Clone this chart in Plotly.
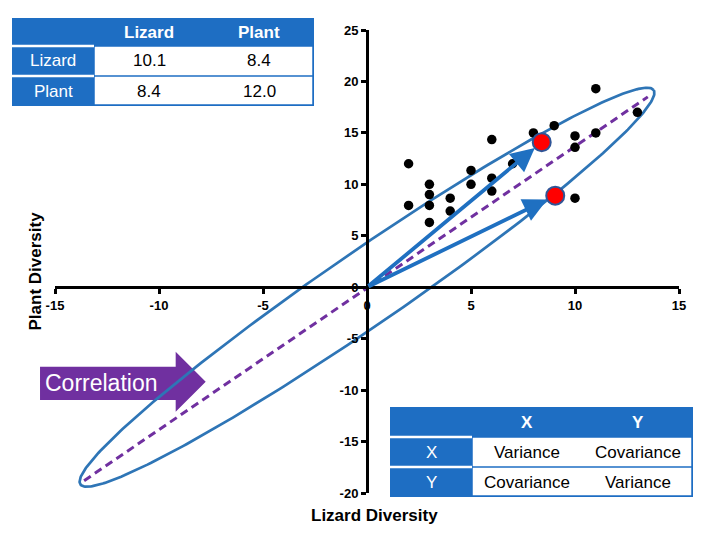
import numpy as np
import plotly.graph_objects as go

# ---------------- data ----------------
lizard = [2, 2, 3, 3, 3, 3, 4, 4, 5, 5, 6, 6, 6, 7, 8, 9, 10, 10, 10, 11, 11, 13]
plant = [12, 7.95, 10, 9, 7.95, 6.3, 8.65, 7.4, 11.35, 10, 14.35, 10.6, 9.35, 12,
         15, 15.7, 14.7, 13.6, 8.65, 19.3, 15, 17]

eig_x = [8.4, 9.05]
eig_y = [14.1, 8.9]

line_x = [-13.6, 13.5]
line_y = [-18.8, 18.5]

ellipse_tip = (13.78, 19.16)     # end of the long half-axis (data units)
ellipse_half_width_px = 37       # short half-axis, in screen pixels

x_ticks = [-15, -10, -5, 0, 5, 10, 15]
x_tick_text = ["-15", "-10", "-5", "0", "5", "10", "15"]
y_ticks = [-20, -15, -10, -5, 0, 5, 10, 15, 20, 25]
y_tick_text = ["-20", "-15", "-10", "-5", "0", "5", "10", "15", "20", "25"]

cov_cols = ["Lizard", "Plant"]
cov_rows = ["Lizard", "Plant"]
cov_vals = [["10.1", "8.4"], ["8.4", "12.0"]]

gen_cols = ["X", "Y"]
gen_rows = ["X", "Y"]
gen_vals = [["Variance", "Covariance"], ["Covariance", "Variance"]]

x_range = [-15, 15]
y_range = [-20, 25]

# ---------------- layout geometry ----------------
OFF = 8                       # page body margin
W_FIG, H_FIG = 720 - OFF, 540 - OFF
L, R, T, B = 55 - OFF, 41, 30 - OFF, 47
PW, PH = W_FIG - L - R, H_FIG - T - B
sx = PW / (x_range[1] - x_range[0])
sy = PH / (y_range[1] - y_range[0])
PLOT_LEFT = L + OFF
PLOT_BOTTOM = OFF + H_FIG - B


def px(p):
    return (p - PLOT_LEFT) / PW


def py(p):
    return (PLOT_BOTTOM - p) / PH


BLUE_T = "#1E6EC3"
BLUE_L = "#2E75B6"
PURPLE = "#7030A0"
FONT = "Liberation Sans, Arial, sans-serif"

# ellipse computed in screen space, converted back to data units
ax_px = np.array([ellipse_tip[0] * sx, ellipse_tip[1] * sy])
a_len = np.hypot(*ax_px)
u = ax_px / a_len
v = np.array([-u[1], u[0]])
t = np.linspace(0, 2 * np.pi, 361)
pts = np.outer(np.cos(t), ax_px) + np.outer(np.sin(t), v * ellipse_half_width_px)
ell_x = pts[:, 0] / sx
ell_y = pts[:, 1] / sy

fig = go.Figure()
fig.add_trace(go.Scatter(x=line_x, y=line_y, mode="lines",
                         line=dict(color=PURPLE, width=3, dash="8px,5px"),
                         hoverinfo="skip"))
fig.add_trace(go.Scatter(x=ell_x, y=ell_y, mode="lines",
                         line=dict(color=BLUE_L, width=2.7), hoverinfo="skip"))
fig.add_trace(go.Scatter(x=lizard, y=plant, mode="markers",
                         marker=dict(color="black", size=9.5)))
fig.add_trace(go.Scatter(x=eig_x, y=eig_y, mode="markers",
                         marker=dict(color="#FF0000", size=18,
                                     line=dict(color="#2F5597", width=2))))

annotations = []
for ex, ey in zip(eig_x, eig_y):
    annotations.append(dict(x=ex, y=ey, ax=0, ay=0, xref="x", yref="y",
                            axref="x", ayref="y", text="", showarrow=True,
                            arrowhead=2, arrowsize=1.25, arrowwidth=3.8,
                            arrowcolor="#1F70C1", standoff=9))

shapes = []


def label(xp, yp, text, size, color, angle=0):
    annotations.append(dict(x=px(xp), y=py(yp), xref="paper", yref="paper",
                            xanchor="center", yanchor="middle", text=text,
                            showarrow=False, textangle=angle,
                            font=dict(family=FONT, size=size, color=color)))


def table(col_edges, row_edges, cols, rows, vals):
    x0, x1 = col_edges[0], col_edges[-1]
    y0, y1 = row_edges[0], row_edges[-1]
    shapes.append(dict(type="rect", xref="paper", yref="paper",
                       x0=px(x0), x1=px(x1), y0=py(y1), y1=py(y0),
                       fillcolor=BLUE_T, line=dict(width=0), layer="above"))
    shapes.append(dict(type="rect", xref="paper", yref="paper",
                       x0=px(col_edges[1]), x1=px(x1 - 1), y0=py(y1 - 1),
                       y1=py(row_edges[1]),
                       fillcolor="white", line=dict(color=BLUE_T, width=1.5),
                       layer="above"))
    for r in row_edges[1:-1]:
        shapes.append(dict(type="line", xref="paper", yref="paper",
                           x0=px(x0), x1=px(col_edges[1]), y0=py(r), y1=py(r),
                           line=dict(color="white", width=2.5), layer="above"))
    for r in row_edges[2:-1]:
        shapes.append(dict(type="line", xref="paper", yref="paper",
                           x0=px(col_edges[1]), x1=px(x1), y0=py(r), y1=py(r),
                           line=dict(color=BLUE_T, width=1.5), layer="above"))
    yc0 = (row_edges[0] + row_edges[1]) / 2
    for j, c in enumerate(cols):
        xc = (col_edges[j + 1] + col_edges[j + 2]) / 2
        label(xc, yc0, "<b>%s</b>" % c, 17, "white")
    for i, rlab in enumerate(rows):
        yc = (row_edges[i + 1] + row_edges[i + 2]) / 2
        label((col_edges[0] + col_edges[1]) / 2, yc, rlab, 17, "white")
        for j, val in enumerate(vals[i]):
            xv = (col_edges[j + 1] + col_edges[j + 2]) / 2
            label(xv, yc, val, 17, "black")


table([12, 94, 204, 314], [18, 46, 76, 106], cov_cols, cov_rows, cov_vals)
table([390, 472, 582, 693], [407, 437, 467, 497], gen_cols, gen_rows, gen_vals)

# "Correlation" block arrow
arrow_pts = [(40, 366.7), (175.7, 366.7), (175.7, 351.7), (205.7, 381.7),
             (175.7, 411.7), (175.7, 400), (40, 400)]
path = "M " + " L ".join("%.4f,%.4f" % (px(a), py(b)) for a, b in arrow_pts) + " Z"
shapes.append(dict(type="path", xref="paper", yref="paper", path=path,
                   fillcolor=PURPLE, line=dict(width=0), layer="below"))
label(101.5, 383, "Correlation", 23, "white")

label(35, 271.5, "<b>Plant Diversity</b>", 17, "black", angle=-90)
label(374, 515, "<b>Lizard Diversity</b>", 17, "black")

tickfont = dict(family=FONT, size=13, color="black", weight="bold")
fig.update_layout(
    width=W_FIG, height=H_FIG, autosize=False,
    margin=dict(l=L, r=R, t=T, b=B, pad=0),
    paper_bgcolor="white", plot_bgcolor="rgba(0,0,0,0)",
    showlegend=False,
    xaxis=dict(range=x_range, anchor="free",
               position=(0 - y_range[0]) / (y_range[1] - y_range[0]),
               showgrid=False, zeroline=False, showline=True, linecolor="black",
               linewidth=3, ticks="outside", ticklen=5, tickwidth=2.5,
               tickcolor="black", tickvals=x_ticks, ticktext=x_tick_text,
               tickfont=tickfont),
    yaxis=dict(range=y_range, anchor="free",
               position=(0 - x_range[0]) / (x_range[1] - x_range[0]),
               showgrid=False, zeroline=False, showline=True, linecolor="black",
               linewidth=3, ticks="outside", ticklen=5, tickwidth=2.5,
               tickcolor="black", tickvals=y_ticks, ticktext=y_tick_text,
               tickfont=tickfont),
    shapes=shapes, annotations=annotations,
)

fig.write_html("out.html")
